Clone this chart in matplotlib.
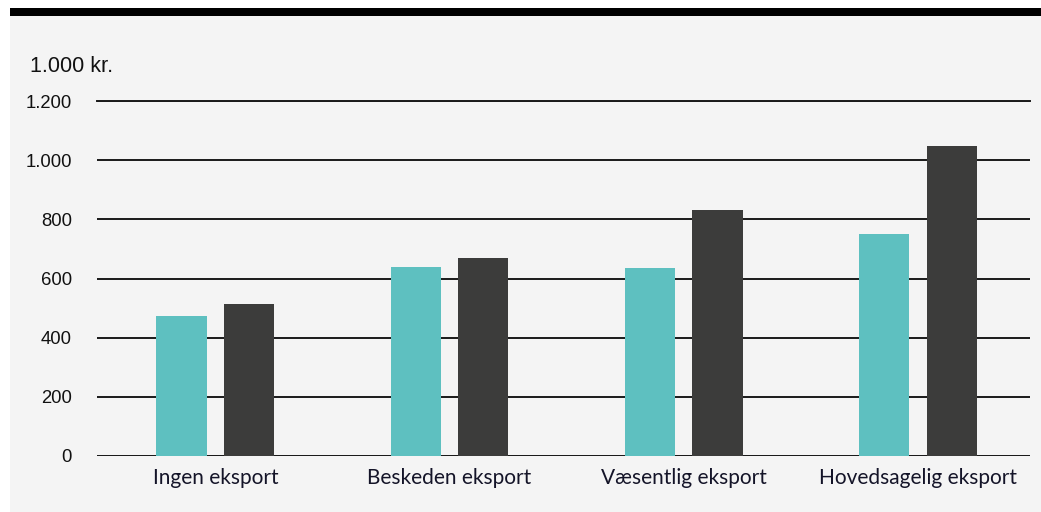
import matplotlib.pyplot as plt
from matplotlib.patches import Rectangle
import numpy as np

categories = ['Ingen eksport', 'Beskeden eksport', 'Væsentlig eksport', 'Hovedsagelig eksport']
series_a = [473, 638, 637, 752]    # teal
series_b = [514, 670, 833, 1048]   # dark
yticks = [0, 200, 400, 600, 800, 1000, 1200]
ytick_labels = ['0', '200', '400', '600', '800', '1.000', '1.200']
unit_label = '1.000 kr.'

TEAL = '#5ec0c0'
DARK = '#3c3c3b'
BG = '#f4f4f4'

fig = plt.figure(figsize=(10.41, 5.12), dpi=100)
W, H = 1041, 512

# grey panel and black top rule
fig.patches.append(Rectangle((10 / W, 0), 1 - 10 / W, 1 - 16 / H,
                             transform=fig.transFigure, facecolor=BG, edgecolor='none', zorder=-10))
fig.patches.append(Rectangle((10 / W, 1 - 16 / H), 1 - 10 / W, 8 / H,
                             transform=fig.transFigure, facecolor='black', edgecolor='none', zorder=-10))

# axes placed in pixel coordinates: x 97..1030, y 101..456
ax = fig.add_axes([97 / W, 1 - 456 / H, (1030 - 97) / W, (456 - 101) / H])
ax.set_facecolor('none')

x = np.arange(len(categories))
w = 0.214
off = 0.145
ax.bar(x - off, series_a, width=w, color=TEAL, zorder=3)
ax.bar(x + off, series_b, width=w, color=DARK, zorder=3)

ax.set_xlim(-0.506, 3.48)
ax.set_ylim(0, 1200)
ax.set_yticks(yticks)
ax.set_yticklabels(ytick_labels, fontfamily='Liberation Sans', fontsize=13.3, color='#111111')
ax.yaxis.grid(True, color='#1a1a1a', linewidth=1.4, zorder=1)
ax.set_axisbelow(True)
ax.tick_params(axis='y', length=0, pad=18)
ax.tick_params(axis='x', length=0, pad=9)
ax.set_xticks(x)
ax.set_xticklabels(categories, fontfamily='Lato', fontsize=15, color='#141428')
for s in ax.spines.values():
    s.set_visible(False)
# make sure the 0 and 1200 lines are drawn
ax.axhline(0, color='#1a1a1a', linewidth=1.4, zorder=2)
ax.axhline(1200, color='#1a1a1a', linewidth=1.4, zorder=2, clip_on=False)

fig.text(30 / W, 1 - 67 / H, unit_label, fontfamily='Liberation Sans', fontsize=15.5,
         color='#111111', va='center', ha='left')

fig.savefig('out.png', dpi=100, facecolor='white')
